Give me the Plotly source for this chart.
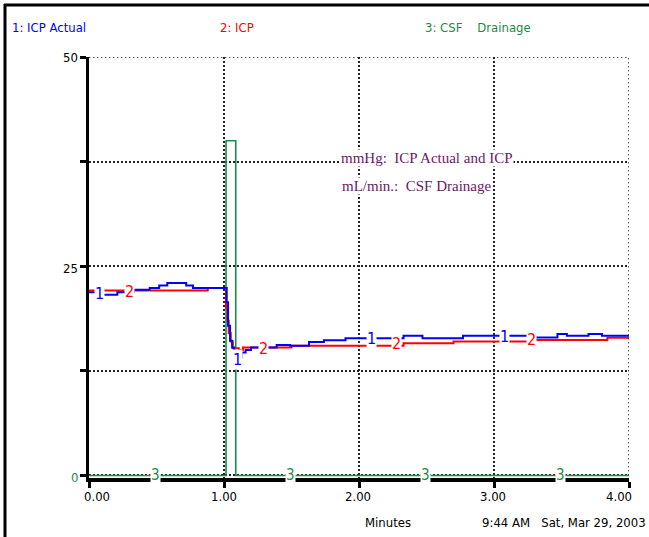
import plotly.graph_objects as go

# ---------------- data ----------------
time_actual = [0.00, 0.08, 0.21, 0.33, 0.45, 0.52, 0.58, 0.72, 0.77, 0.90, 1.00, 1.02, 1.03,
               1.045, 1.06, 1.075, 1.115, 1.13, 1.16, 1.20, 1.39, 1.49, 1.63, 1.74, 1.90,
               2.33, 2.47, 2.77, 3.30, 3.47, 3.54, 3.70, 3.80, 4.00]
icp_actual = [21.9, 21.6, 21.9, 22.2, 22.4, 22.7, 23.0, 22.7, 22.4, 22.4, 22.4, 20.7, 17.9,
              16.1, 15.3, 14.3, 14.1, 14.7, 15.0, 15.3, 15.6, 15.5, 15.95, 16.15, 16.4,
              16.7, 16.4, 16.7, 16.5, 16.9, 16.7, 16.9, 16.7, 16.7]

time_icp = [0.00, 0.88, 1.00, 1.015, 1.025, 1.035, 1.05, 1.065, 1.11, 1.14, 1.50,
            2.33, 2.70, 3.30, 3.84, 4.00]
icp = [22.1, 22.4, 22.4, 20.0, 18.5, 17.0, 16.0, 15.2, 15.0, 15.3, 15.5,
       15.8, 16.0, 16.2, 16.45, 16.45]

time_csf = [0.00, 1.015, 1.087, 4.00]
csf_drainage = [0, 40, 0, 0]

x_ticks = [0, 1, 2, 3, 4]
x_tick_labels = ["0.00", "1.00", "2.00", "3.00", "4.00"]
y_ticks = [0, 12.5, 25, 37.5, 50]
y_tick_labels = ["0", "", "25", "", "50"]

marker_1 = [(0.08, 21.7), (1.10, 13.9), (2.09, 16.4), (3.08, 16.6)]
marker_2 = [(0.30, 22.0), (1.29, 15.2), (2.28, 15.8), (3.28, 16.2)]
marker_3 = [0.49, 1.49, 2.49, 3.49]

# ---------------- layout geometry ----------------
W_FIG, H_FIG = 649, 537
L, R, T, B = 89, 629, 57, 478
PW, PH = R - L, B - T

def px(x):
    return (x - L) / PW

def py(y):
    return (B - y) / PH

NARROW = "Liberation Sans Narrow, Arial Narrow, DejaVu Sans Condensed, Liberation Sans, sans-serif"
SERIF = "Liberation Serif, Times New Roman, serif"
BLUE, RED, GREEN, PURPLE = "#0000ff", "#ff0000", "#1a8c45", "#6a1b5f"
DOT = "1.5px,2.5px"

fig = go.Figure()
fig.add_trace(go.Scatter(x=time_csf, y=csf_drainage, mode="lines", line_shape="hv",
                         line=dict(color=GREEN, width=1.6), name="3: CSF Drainage"))
fig.add_trace(go.Scatter(x=time_icp, y=icp, mode="lines", line_shape="hv",
                         line=dict(color=RED, width=2), name="2: ICP"))
fig.add_trace(go.Scatter(x=time_actual, y=icp_actual, mode="lines", line_shape="hv",
                         line=dict(color=BLUE, width=2), name="1: ICP Actual"))

ann = []

def note(xp, yp, text, color, size=13, family=NARROW, xanchor="center", bg=None):
    d = dict(x=px(xp), y=py(yp), xref="paper", yref="paper", xanchor=xanchor, yanchor="middle",
             text=text, showarrow=False, font=dict(family=family, size=size, color=color))
    if bg:
        d.update(bgcolor=bg, borderpad=0)
    ann.append(d)

for (t, v) in marker_1:
    ann.append(dict(x=t, y=v, xref="x", yref="y", xanchor="center", yanchor="middle", text="1",
                    showarrow=False, font=dict(family=NARROW, size=16, color=BLUE),
                    bgcolor="white", borderpad=0))
for (t, v) in marker_2:
    ann.append(dict(x=t, y=v, xref="x", yref="y", xanchor="center", yanchor="middle", text="2",
                    showarrow=False, font=dict(family=NARROW, size=16, color=RED),
                    bgcolor="white", borderpad=0))
for t in marker_3:
    ann.append(dict(x=t, y=0, xref="x", yref="y", xanchor="center", yanchor="middle", text="3",
                    showarrow=False, font=dict(family=NARROW, size=15, color=GREEN),
                    bgcolor="white", borderpad=0))

# header legend
note(10, 28, "1: ICP Actual", BLUE, xanchor="left")
note(218, 28, "2: ICP", RED, xanchor="left")
note(423, 28, "3: CSF&nbsp;&nbsp;&nbsp;&nbsp;Drainage", GREEN, xanchor="left")

# units note
note(340, 158, "mmHg:&nbsp;&nbsp;ICP Actual and ICP", PURPLE, size=15, family=SERIF,
     xanchor="left", bg="white")
note(341, 186, "mL/min.:&nbsp;&nbsp;CSF Drainage", PURPLE, size=15, family=SERIF,
     xanchor="left", bg="white")

# x tick labels
x_label_px = [97, 224, 358, 493, 619]
for xl, lab in zip(x_label_px, x_tick_labels):
    note(xl, 497, lab, "black")

# y tick labels
y_label_py = {0: 477, 25: 268, 50: 57}
for v, lab in zip(y_ticks, y_tick_labels):
    if lab:
        note(80, y_label_py[v], lab, GREEN if v == 0 else "black", xanchor="right")

note(388, 522, "Minutes", "black")
note(480, 522, "9:44 AM&nbsp;&nbsp;&nbsp;Sat, Mar 29, 2003", "black", xanchor="left")

shapes = [
    # outer frame (top and left edges)
    dict(type="line", xref="paper", yref="paper", x0=px(4), x1=px(649), y0=py(5), y1=py(5),
         line=dict(color="black", width=3)),
    dict(type="line", xref="paper", yref="paper", x0=px(5), x1=px(5), y0=py(4), y1=py(537),
         line=dict(color="black", width=3)),
    # dotted edge grid lines (top at 50, right at 4.00)
    dict(type="line", xref="x", yref="y", x0=0, x1=4, y0=50, y1=50,
         line=dict(color="#222", width=1.5, dash=DOT)),
    dict(type="line", xref="x", yref="y", x0=4, x1=4, y0=0, y1=50,
         line=dict(color="#222", width=1.5, dash=DOT)),
]

fig.update_layout(
    width=W_FIG, height=H_FIG,
    margin=dict(l=L, r=W_FIG - R, t=T, b=H_FIG - B),
    paper_bgcolor="white", plot_bgcolor="white",
    showlegend=False,
    annotations=ann, shapes=shapes,
    xaxis=dict(range=[0, 4], tickvals=x_ticks, showticklabels=False,
               ticks="outside", ticklen=6, tickwidth=3, tickcolor="black",
               showline=True, linecolor="black", linewidth=3.5,
               showgrid=True, gridcolor="#222", gridwidth=1.5, griddash=DOT,
               zeroline=False, fixedrange=True),
    yaxis=dict(range=[-0.3, 50], tickvals=y_ticks, showticklabels=False,
               ticks="outside", ticklen=6, tickwidth=3, tickcolor="black",
               showline=True, linecolor="black", linewidth=3,
               showgrid=True, gridcolor="#222", gridwidth=1.5, griddash=DOT,
               zeroline=False, fixedrange=True),
)

fig.write_html("out.html", config={"displayModeBar": False},
               post_script="document.body.style.margin='0';")
